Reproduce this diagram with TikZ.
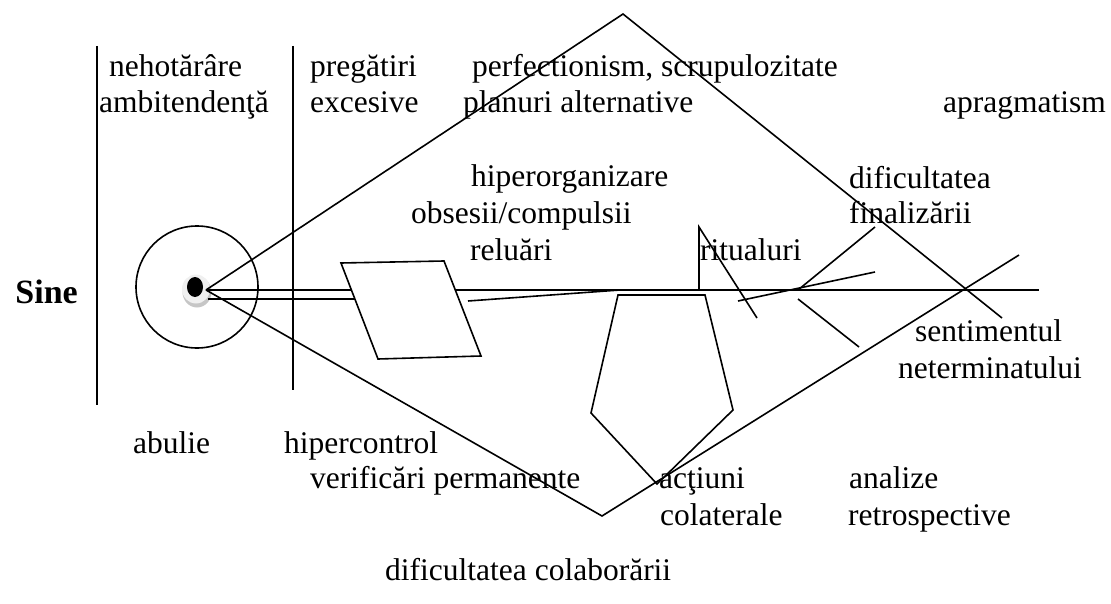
\documentclass[tikz,border=0pt]{standalone}
\usepackage{fontspec}
\setmainfont{Liberation Serif}
\begin{document}
\begin{tikzpicture}[x=1pt,y=-1pt,
  lbl/.style={anchor=base west, inner sep=0pt, font=\fontsize{31.5}{37}\selectfont},
  ln/.style={line width=1.6pt, line cap=butt, line join=miter}]
\useasboundingbox (0,0) rectangle (1111,604);
% coordinates
\coordinate (E) at (206,290);
\coordinate (Dt) at (623,14);
\coordinate (Db) at (602,516);
\coordinate (Dr1) at (1002,318);
\coordinate (Dr2) at (1019,255);
\coordinate (Pa) at (341,263);
\coordinate (Pb) at (444,261);
\coordinate (Pc) at (481,356);
\coordinate (Pd) at (378,359);
\coordinate (Q1) at (618,295);
\coordinate (Q2) at (705,295);
\coordinate (Q3) at (733,410);
\coordinate (Q4) at (657,484);
\coordinate (Q5) at (591,413);
% vertical bars
\draw[ln] (97,46) coordinate (V1a) -- (97,405) coordinate (V1b);
\draw[ln] (293,46) coordinate (V2a) -- (293,390) coordinate (V2b);
% circle and eye
\draw[ln] (197,287) circle[radius=61];
\fill[gray!45] (197,292) ellipse[x radius=14.5, y radius=15.5];
\fill[gray!12] (196,289) ellipse[x radius=14, y radius=14.5];
\fill[black] (195,287) ellipse[x radius=8, y radius=10];
% double line
\draw[ln] (E) -- (351,290);
\draw[ln] (208,299) -- (355,299);
% parallelogram
\draw[ln] (Pa) -- (Pb) -- (Pc) -- (Pd) -- cycle;
% long horizontal line
\draw[ln] (455,290) -- (1039,290) coordinate (Hend);
\draw[ln] (468,301) -- (620,290);
% diamond
\draw[ln] (E) -- (Dt) -- (Dr1);
\draw[ln] (E) -- (Db) -- (Dr2);
% pentagon
\draw[ln] (Q1) -- (Q2) -- (Q3) -- (Q4) -- (Q5) -- cycle;
% ritualuri spike
\draw[ln] (699,290) -- (699,227) -- (757,318);
% fan
\draw[ln] (798,290) -- (875,227);
\draw[ln] (738,301) -- (875,272);
\draw[ln] (798,299) -- (859,347);
% labels
\node[lbl] (t1) at (109,77) {nehotărâre};
\node[lbl] (t2) at (99,113) {ambitendenţă};
\node[lbl] (t3) at (310,77) {pregătiri};
\node[lbl] (t4) at (310,113) {excesive};
\node[lbl] (t5) at (472,77) {perfectionism, scrupulozitate};
\node[lbl] (t6) at (463,113) {planuri alternative};
\node[lbl] (t7) at (943,113) {apragmatism};
\node[lbl] (t8) at (471,187) {hiperorganizare};
\node[lbl] (t9) at (411,224) {obsesii/compulsii};
\node[lbl] (t10) at (470,261) {reluări};
\node[lbl] (t11) at (700,261) {ritualuri};
\node[lbl] (t12) at (849,189) {dificultatea};
\node[lbl] (t13) at (849,224) {finalizării};
\node[lbl] (t14) at (915,341) {sentimentul};
\node[lbl] (t15) at (898,378) {neterminatului};
\node[lbl] (t16) at (133,453) {abulie};
\node[lbl] (t17) at (284,453) {hipercontrol};
\node[lbl] (t18) at (310,488) {verificări permanente};
\node[lbl] (t19) at (659,488) {acţiuni};
\node[lbl] (t20) at (660,525) {colaterale};
\node[lbl] (t21) at (849,488) {analize};
\node[lbl] (t22) at (848,525) {retrospective};
\node[lbl] (t23) at (385,580) {dificultatea colaborării};
\node[anchor=base east, inner sep=0pt, font=\fontsize{34}{40}\selectfont\bfseries] (sine) at (78,303) {Sine};
\end{tikzpicture}
\end{document}
